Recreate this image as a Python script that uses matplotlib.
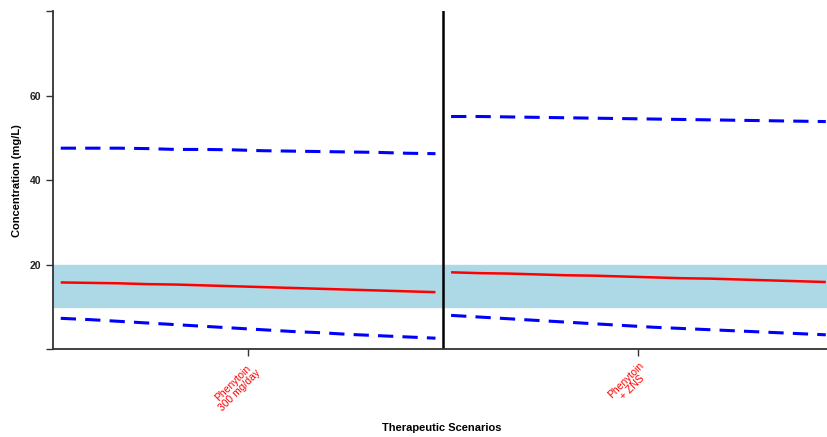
import numpy as np
import matplotlib as mpl
mpl.use('Agg')
from matplotlib import pyplot as plt

plt.rcParams['font.family'] = ['Liberation Sans', 'DejaVu Sans']

# scenarios and the simulated concentration bands for each one
scenarios = ['Phenytoin\n300 mg/day', 'Phenytoin\n+ ZNS']
hours = [0, 1, 2, 3, 4, 5, 6, 7, 8, 9, 10, 11, 12, 13]

median_1 = [15.8, 15.7, 15.6, 15.4, 15.3, 15.1, 14.9, 14.7, 14.5, 14.3, 14.1, 13.9, 13.7, 13.5]
upper_1 = [47.6, 47.6, 47.6, 47.5, 47.3, 47.3, 47.2, 47.0, 46.9, 46.8, 46.7, 46.6, 46.4, 46.3]
lower_1 = [7.3, 7.0, 6.6, 6.2, 5.8, 5.4, 5.0, 4.6, 4.2, 3.9, 3.5, 3.2, 2.9, 2.6]

median_2 = [18.2, 18.0, 17.9, 17.7, 17.5, 17.4, 17.2, 17.0, 16.8, 16.7, 16.5, 16.3, 16.1, 15.9]
upper_2 = [55.1, 55.1, 55.0, 54.9, 54.8, 54.7, 54.6, 54.5, 54.4, 54.3, 54.2, 54.1, 54.0, 53.9]
lower_2 = [8.0, 7.6, 7.2, 6.8, 6.4, 6.0, 5.6, 5.2, 4.9, 4.6, 4.3, 4.0, 3.7, 3.4]

therapeutic_range = (10, 20)
y_ticks = [0, 20, 40, 60, 80]
y_labels = ['', '20', '40', '60', '']

fig = plt.figure(figsize=(8.27, 4.37), dpi=100)
ax = fig.add_axes([0.064, 0.201, 0.944, 0.773])

# therapeutic window
ax.axhspan(therapeutic_range[0], therapeutic_range[1], color='#add8e6', zorder=0)

panels = [(median_1, upper_1, lower_1), (median_2, upper_2, lower_2)]
t = np.array(hours, dtype=float)
for i, (med, up, lo) in enumerate(panels):
    x = (i + 1) + (t / t.max() - 0.5) * 0.96
    ax.plot(x, med, color='red', lw=1.8, solid_capstyle='butt')
    ax.plot(x, up, color='blue', lw=2.2, dashes=(5, 3))
    ax.plot(x, lo, color='blue', lw=2.2, dashes=(5, 3))

# divider between scenarios
ax.axvline(1.5, color='black', lw=1.8)

ax.set_xlim(0.5, 2.5)
ax.set_ylim(0, 80)
ax.set_xticks([1, 2])
ax.set_xticklabels(scenarios, rotation=45, ha='right', va='top', ma='center',
                   rotation_mode='anchor', color='red', fontsize=7.5, linespacing=1.0)
ax.set_yticks(y_ticks)
ax.set_yticklabels(y_labels, fontsize=7.5, fontweight='bold')

for s in ['top', 'right']:
    ax.spines[s].set_visible(False)
for s in ['left', 'bottom']:
    ax.spines[s].set_color('#333333')
    ax.spines[s].set_linewidth(1.3)
ax.tick_params(axis='both', colors='#333333', width=1.0, length=5)
ax.tick_params(axis='x', labelcolor='red', pad=3)
ax.tick_params(axis='y', labelcolor='#222222')

ax.set_ylabel('Concentration (mg/L)', fontsize=8, fontweight='bold', va='center')
ax.yaxis.set_label_coords(-0.046, 0.5)
ax.set_xlabel('Therapeutic Scenarios', fontsize=8, fontweight='bold', va='center')
ax.xaxis.set_label_coords(0.498, -0.234)

fig.savefig('out.png', dpi=100)
